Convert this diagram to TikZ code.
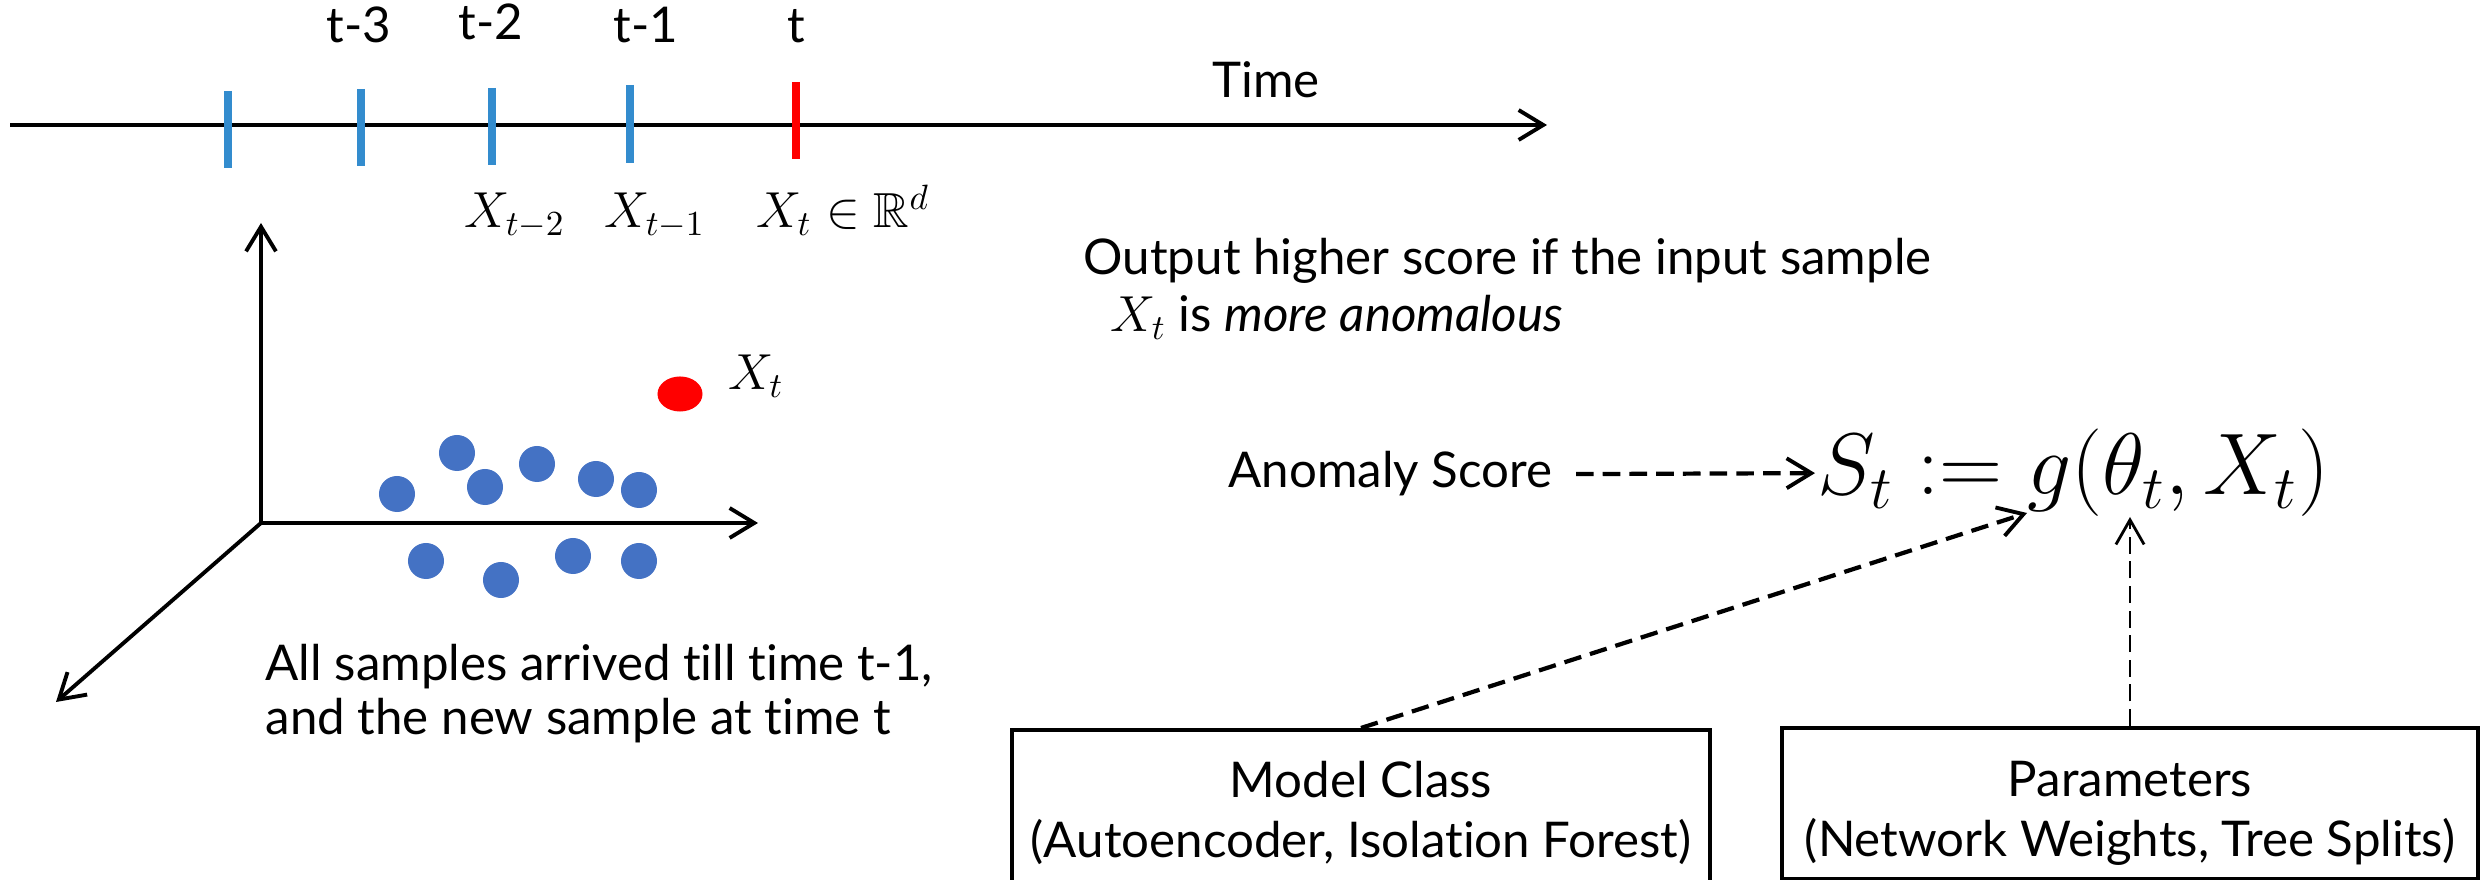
\documentclass[tikz,border=0pt]{standalone}
\usepackage{fontspec}
\setmainfont{Lato}[Ligatures=CommonOff]
\usepackage{amssymb}
\usetikzlibrary{arrows.meta,shapes.geometric}

\definecolor{tickblue}{RGB}{51,140,206}
\definecolor{dotblue}{RGB}{68,114,196}
\definecolor{hotred}{RGB}{255,0,0}

\tikzset{
  barb/.tip={Straight Barb[length=7pt,width=8.5pt,line width=1.1pt]},
  axisline/.style={line width=1.1pt,-barb},
  timemark/.style={line width=2.3pt,tickblue},
  txt/.style={inner sep=0pt,font=\fontsize{14pt}{17pt}\selectfont},
  sample/.style={circle,fill=dotblue,inner sep=0pt,minimum size=0.36cm},
  outlier/.style={ellipse,fill=hotred,inner sep=0pt,minimum width=0.45cm,minimum height=0.35cm},
  boldlink/.style={line width=1.2pt,dash pattern=on 5pt off 2.6pt,-barb},
  thinlink/.style={line width=0.8pt,dash pattern=on 4.8pt off 2.2pt,
    -{Straight Barb[length=7pt,width=8pt,line width=0.8pt]}},
  infobox/.style={draw,line width=1.1pt,inner sep=0pt},
}

\begin{document}
\begin{tikzpicture}[x=0.01cm,y=-0.01cm]
\useasboundingbox (0,0) rectangle (2481,880);

% time line with sample instants
\coordinate (tstart) at (10,125);
\coordinate (tend) at (1547,125);
\draw[axisline] (tstart) -- (tend);
\draw[timemark] (228,91) -- (228,168);
\draw[timemark] (361,89) -- (361,166);
\draw[timemark] (492,88) -- (492,165);
\draw[timemark] (630,85) -- (630,163);
\draw[timemark,hotred] (796,82) -- (796,159);

\node[txt,anchor=base] (lt3) at (359,43) {t-3};
\node[txt,anchor=base] (lt2) at (491,40) {t-2};
\node[txt,anchor=base] (lt1) at (646,43) {t-1};
\node[txt,anchor=base] (lt0) at (796,43) {t};
\node[txt,anchor=base] (ltime) at (1266,98) {Time};

\node[txt,anchor=base] (x2) at (515,228) {$X_{t-2}$};
\node[txt,anchor=base] (x1) at (655,228) {$X_{t-1}$};
\node[txt,anchor=base] (x0) at (843,228) {$X_t \in \mathbb{R}^d$};

% feature space
\coordinate (o) at (261,523);
\coordinate (ay) at (261,223);
\coordinate (ax) at (758,523);
\coordinate (az) at (56,702);
\draw[axisline] (o) -- (ay);
\draw[axisline] (o) -- (ax);
\draw[axisline] (o) -- (az);

\node[sample] (s1) at (397,494) {};
\node[sample] (s2) at (457,453) {};
\node[sample] (s3) at (485,487) {};
\node[sample] (s4) at (537,464) {};
\node[sample] (s5) at (596,479) {};
\node[sample] (s6) at (639,490) {};
\node[sample] (s7) at (426,561) {};
\node[sample] (s8) at (501,580) {};
\node[sample] (s9) at (573,556) {};
\node[sample] (s10) at (639,561) {};
\node[outlier] (new) at (680,394) {};
\node[txt] (newlbl) at (756,376) {$X_t$};

% the last line's baseline sets the position of this two-line caption
\node[txt,anchor=base west,align=left,font=\fontsize{14pt}{15.6pt}\selectfont]
  (caption) at (265,735) {All samples arrived till time t-1,\\and the new sample at time t};

% scoring
\node[txt,anchor=base west] (out1) at (1083,275) {Output higher score if the input sample};
\node[txt,anchor=base west] (out2) at (1110,332) {$X_t$ is \textit{more anomalous}};

\node[txt,anchor=base east,inner xsep=0.23cm] (anom) at (1576,488) {Anomaly Score};
\node[anchor=base west,inner sep=0.02cm,font=\fontsize{23pt}{27pt}\selectfont]
  (score) at (1815,495) {$S_t := g(\theta_t, X_t)$};
\coordinate (gfoot) at (2027,513);
\coordinate (thetafoot) at (2130,517);

\node[infobox,anchor=north,minimum width=6.98cm,minimum height=1.62cm] (model) at (1361,728) {};
\node[infobox,anchor=north,minimum width=6.95cm,minimum height=1.51cm] (params) at (2130,726) {};
\node[txt,anchor=north,align=center,font=\fontsize{14pt}{17pt}\selectfont]
  (modeltxt) at (1361,761) {Model Class\\(Autoencoder, Isolation Forest)};
\node[txt,anchor=north,align=center,font=\fontsize{14pt}{17pt}\selectfont]
  (paramstxt) at (2130,761) {Parameters\\(Network Weights, Tree Splits)};

\draw[boldlink] (anom.east) -- (score.west);
\draw[boldlink] (model.north) -- (gfoot);
\draw[thinlink] (params.north) -- (thetafoot);
\end{tikzpicture}
\end{document}
